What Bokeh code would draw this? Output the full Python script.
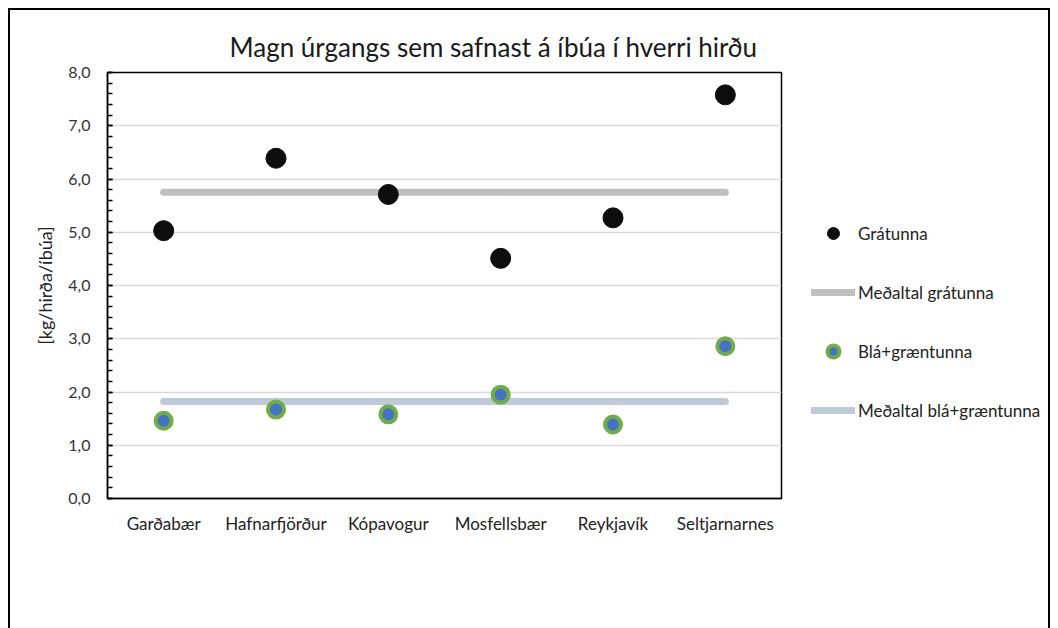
from bokeh.plotting import figure
from bokeh.models import Legend, LegendItem, SingleIntervalTicker, Title
from bokeh.embed import file_html
from bokeh.resources import INLINE

categories = ["Garðabær", "Hafnarfjörður", "Kópavogur", "Mosfellsbær", "Reykjavík", "Seltjarnarnes"]
gratunna = [5.03, 6.39, 5.71, 4.51, 5.27, 7.58]
blagraen = [1.46, 1.67, 1.58, 1.95, 1.39, 2.86]
medal_gra = 5.75
medal_bla = 1.82
y_ticks = [0, 1, 2, 3, 4, 5, 6, 7, 8]
y_tick_labels = ["0,0", "1,0", "2,0", "3,0", "4,0", "5,0", "6,0", "7,0", "8,0"]

FONT = "Lato"

p = figure(x_range=categories, y_range=(0, 8), frame_width=674, frame_height=426,
           output_backend="svg", toolbar_location=None,
           min_border_left=97, min_border_top=62, min_border_right=0, min_border_bottom=120)
p.styles = {"margin-left": "10px", "margin-top": "10px"}

p.outline_line_color = "#000000"
p.outline_line_width = 1.5

p.title = Title(text="Magn úrgangs sem safnast á íbúa í hverri hirðu", align="left",
                offset=122, text_font=FONT, text_font_size="26px", text_font_style="normal",
                text_color="#1a1a1a", standoff=20)

p.xgrid.grid_line_color = None
p.ygrid.grid_line_color = "#d9d9d9"
p.ygrid.grid_line_width = 1.5

p.yaxis.ticker = SingleIntervalTicker(interval=1, num_minor_ticks=5)
p.yaxis.major_label_overrides = {t: l for t, l in zip(y_ticks, y_tick_labels)}
p.yaxis.axis_line_color = "#000000"
p.yaxis.axis_line_width = 1.5
p.yaxis.major_tick_in = 5
p.yaxis.major_tick_out = 0
p.yaxis.minor_tick_in = 5
p.yaxis.minor_tick_out = 0
p.yaxis.major_tick_line_color = "#000000"
p.yaxis.minor_tick_line_color = "#000000"
p.yaxis.major_tick_line_width = 1.5
p.yaxis.minor_tick_line_width = 1.5
p.yaxis.major_label_standoff = 17
p.yaxis.major_label_text_font = FONT
p.yaxis.major_label_text_font_size = "16px"
p.yaxis.major_label_text_color = "#333333"
p.yaxis.axis_label = "[kg/hirða/íbúa]"
p.yaxis.axis_label_text_font = FONT
p.yaxis.axis_label_text_font_size = "18px"
p.yaxis.axis_label_text_font_style = "normal"
p.yaxis.axis_label_text_color = "#222222"
p.yaxis.axis_label_standoff = 9

p.xaxis.axis_line_color = "#000000"
p.xaxis.axis_line_width = 1.5
p.xaxis.major_tick_line_color = None
p.xaxis.minor_tick_line_color = None
p.xaxis.major_label_standoff = 8
p.xaxis.major_label_text_font = FONT
p.xaxis.major_label_text_font_size = "17px"
p.xaxis.major_label_text_color = "#222222"

r_mg = p.line(x=[categories[0], categories[-1]], y=[medal_gra, medal_gra],
              line_color="#BFBFBF", line_width=7, line_cap="round")
r_mb = p.line(x=[categories[0], categories[-1]], y=[medal_bla, medal_bla],
              line_color="#BFC9D7", line_width=7, line_cap="round")

r_g = p.scatter(x=categories, y=gratunna, size=20, fill_color="#0D0D0D", line_color="#0D0D0D")
r_b = p.scatter(x=categories, y=blagraen, size=16, fill_color="#4472C4",
                line_color="#70AD47", line_width=4)

legend = Legend(items=[
    LegendItem(label="Grátunna", renderers=[r_g]),
    LegendItem(label="Meðaltal grátunna", renderers=[r_mg]),
    LegendItem(label="Blá+græntunna", renderers=[r_b]),
    LegendItem(label="Meðaltal blá+græntunna", renderers=[r_mb]),
], location=(30, 73), orientation="vertical", border_line_color=None,
    background_fill_alpha=0, glyph_width=44, glyph_height=30, spacing=29,
    label_standoff=3, label_text_font=FONT, label_text_font_size="17px",
    label_text_color="#222222", padding=0, margin=0)
p.add_layout(legend, "right")

html = file_html(p, INLINE)
frame_css = ("<style>html, body { overflow: hidden; }"
             " body::after { content: ''; position: fixed; left: 8px; top: 8px;"
             " width: 1038px; height: 660px; border: 2px solid #000;"
             " pointer-events: none; z-index: 1000; }</style>")
html = html.replace("</head>", frame_css + "</head>", 1)
open("out.html", "w").write(html)
